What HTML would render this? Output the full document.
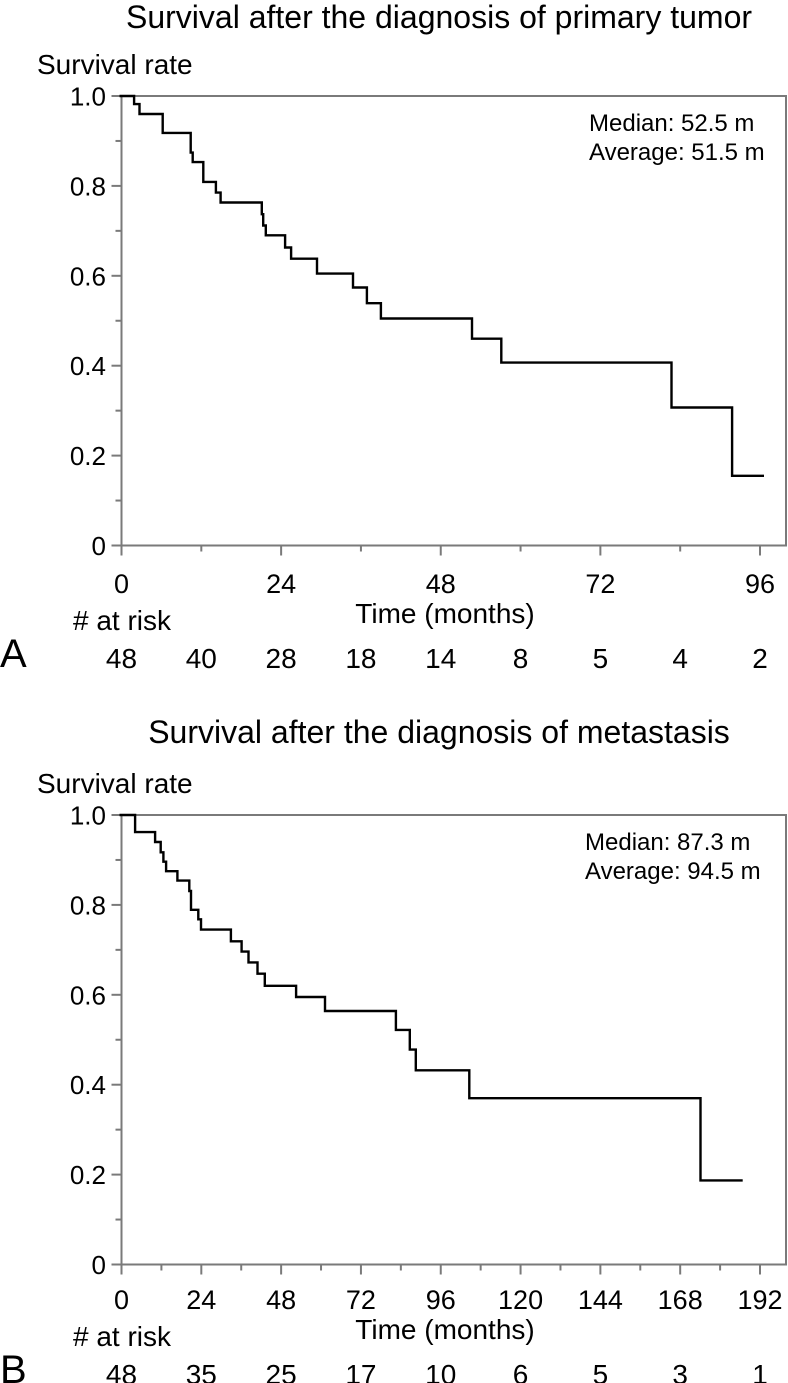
<!DOCTYPE html>
<html><head><meta charset="utf-8">
<style>
html,body{margin:0;padding:0;background:#fff;}
svg{display:block;font-family:"Liberation Sans",Arial,sans-serif;}
</style></head>
<body>
<svg id="fig" width="788" height="1383" viewBox="0 0 788 1383" xmlns="http://www.w3.org/2000/svg"></svg>
<script>
// Panel A data
const timesA = [0, 1.9, 2.7, 6.2, 10.4, 10.7, 12.3, 14.2, 14.9, 21.1, 21.3, 21.7, 24.6, 25.5, 29.4, 34.8, 36.9, 39.0, 52.7, 57.1, 82.7, 91.8];
const survA  = [1.0, 0.982, 0.960, 0.918, 0.874, 0.853, 0.809, 0.785, 0.763, 0.737, 0.712, 0.690, 0.663, 0.638, 0.605, 0.574, 0.539, 0.505, 0.460, 0.407, 0.307, 0.155];
const endA = 96.6;
const xTicksA = [0, 24, 48, 72, 96];
const riskA = [48, 40, 28, 18, 14, 8, 5, 4, 2];
// Panel B data
const timesB = [0, 4.1, 10.1, 11.8, 12.6, 13.4, 16.8, 20.4, 20.9, 23.1, 23.9, 32.9, 36.1, 38.2, 40.9, 43.1, 52.5, 61.2, 82.5, 86.7, 88.5, 104.6, 174.1];
const survB  = [1.0, 0.962, 0.940, 0.917, 0.896, 0.875, 0.854, 0.831, 0.789, 0.768, 0.745, 0.719, 0.696, 0.672, 0.647, 0.620, 0.595, 0.564, 0.522, 0.478, 0.432, 0.370, 0.187];
const endB = 186.8;
const xTicksB = [0, 24, 48, 72, 96, 120, 144, 168, 192];
const riskB = [48, 35, 25, 17, 10, 6, 5, 3, 1];
const yTicks = [0, 0.2, 0.4, 0.6, 0.8, 1.0];
const yTickLabels = ["0", "0.2", "0.4", "0.6", "0.8", "1.0"];

const NS = "http://www.w3.org/2000/svg";
const svg = document.getElementById("fig");
function mk(tag, attrs, parent) {
  const e = document.createElementNS(NS, tag);
  for (const k in attrs) e.setAttribute(k, attrs[k]);
  (parent || svg).appendChild(e);
  return e;
}
function txt(s, attrs, parent) { const t = mk("text", attrs, parent); t.textContent = s; return t; }

function panel(cfg) {
  const off = cfg.off, toff = cfg.toff;
  const g = mk("g", {});
  
  
  const L = 121.5, R = 786, T = 96 + off, B = 545.5 + off;
  const xs = v => L + v / cfg.xmax * (cfg.xEndPx - L);
  const ys = v => B - v * (B - T);

  const title = txt(cfg.title, {x: 439, y: 28 + cfg.titleOff, "font-size": 32, "text-anchor": "middle", fill: "#000"}, g);
  
  
  const yt = txt("Survival rate", {x: 37, y: 74 + off, "font-size": 28, fill: "#000"}, g);
  
  

  const frame = mk("rect", {x: L, y: T, width: R - L, height: B - T, fill: "none", stroke: "#7a7a7a", "stroke-width": 2}, g);
  
  

  for (let i = 0; i <= 10; i++) {
    const v = i / 10, y = ys(v), major = i % 2 === 0;
    const tk = mk("line", {x1: L - (major ? 10 : 6), x2: L, y1: y, y2: y, stroke: "#7a7a7a", "stroke-width": 2}, g);
    
    
  }
  yTicks.forEach((v, i) => {
    const t = txt(yTickLabels[i], {x: 106, y: ys(v) + 9.5, "font-size": 26, "text-anchor": "end", fill: "#000"}, g);
    
    
  });
  const step = cfg.xTicks[1] - cfg.xTicks[0];
  for (let v = 0; v <= cfg.xmax + 0.001; v += step / 2) {
    const major = Math.abs((v / step) - Math.round(v / step)) < 0.01;
    const x = xs(v);
    const tk = mk("line", {x1: x, x2: x, y1: B, y2: B + (major ? 10 : 6), stroke: "#7a7a7a", "stroke-width": 2}, g);
    
    
  }
  cfg.xTicks.forEach(v => {
    const t = txt(String(v), {x: xs(v), y: 593 + toff, "font-size": 27, "text-anchor": "middle", fill: "#000"}, g);
    
    
  });
  const xt = txt("Time (months)", {x: 445, y: 623 + toff, "font-size": 28, "text-anchor": "middle", fill: "#000"}, g);
  
  
  const rk = txt("# at risk", {x: 73, y: 630 + toff, "font-size": 28, fill: "#000"}, g);
  
  
  const pl = txt(cfg.letter, {x: 0, y: 667 + toff, "font-size": 40, fill: "#000"}, g);
  
  
  cfg.risk.forEach((n, i) => {
    const t = txt(String(n), {x: xs(i * cfg.xmax / 8), y: 668 + toff, "font-size": 28, "text-anchor": "middle", fill: "#000"}, g);
    
    
  });

  const m1 = txt(cfg.median, {x: cfg.legX, y: 131 + off, "font-size": 24, fill: "#000"}, g);
  
  
  const m2 = txt(cfg.average, {x: cfg.legX, y: 160 + off, "font-size": 24, fill: "#000"}, g);
  
  

  let d = "M" + (xs(cfg.times[0]) - 2) + "," + ys(cfg.surv[0]);
  for (let i = 1; i < cfg.times.length; i++) {
    d += " H" + xs(cfg.times[i]).toFixed(1) + " V" + ys(cfg.surv[i]).toFixed(1);
  }
  d += " H" + xs(cfg.end).toFixed(1);
  const c = mk("path", {d: d, fill: "none", stroke: "#000", "stroke-width": 2.4}, g);
  
  
}

panel({name: "panel-a", off: 0, toff: 0, titleOff: 0, title: "Survival after the diagnosis of primary tumor", letter: "A",
  times: timesA, surv: survA, end: endA, xTicks: xTicksA, xmax: 96, xEndPx: 760, risk: riskA,
  median: "Median: 52.5 m", average: "Average: 51.5 m", legX: 589});
panel({name: "panel-b", off: 719, toff: 716, titleOff: 715, title: "Survival after the diagnosis of metastasis", letter: "B",
  times: timesB, surv: survB, end: endB, xTicks: xTicksB, xmax: 192, xEndPx: 760, risk: riskB,
  median: "Median: 87.3 m", average: "Average: 94.5 m", legX: 585});
</script>
</body></html>
